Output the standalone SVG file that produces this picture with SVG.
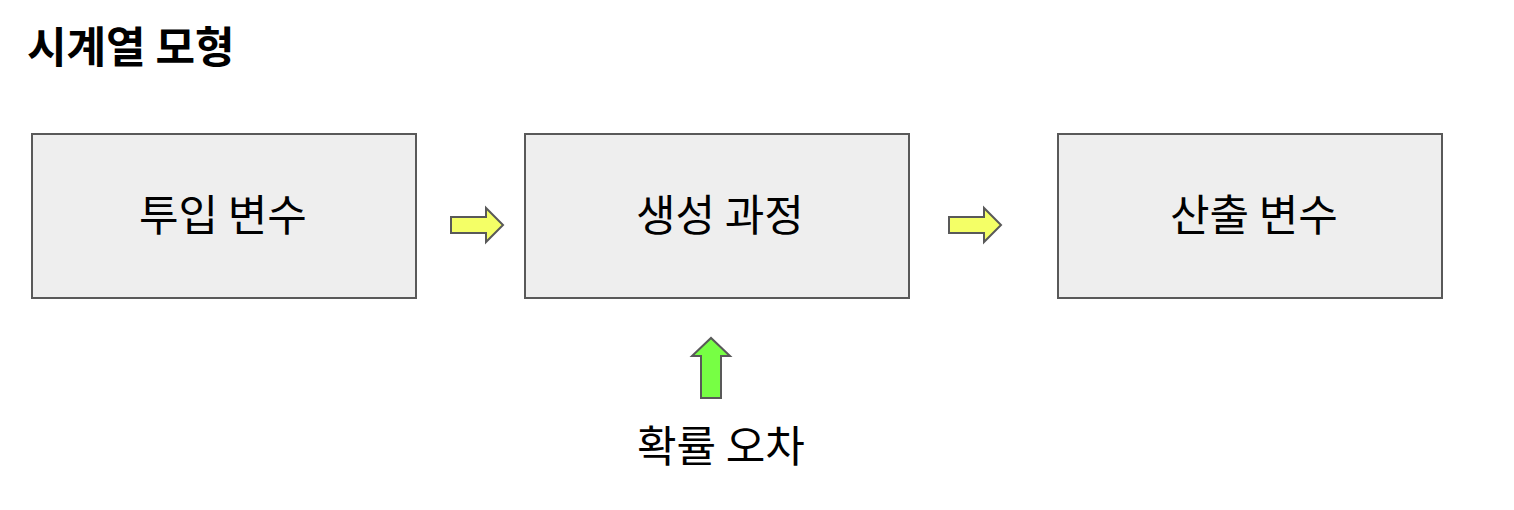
<svg xmlns="http://www.w3.org/2000/svg" width="1514" height="510" viewBox="0 0 1514 510">
<style>
.box{fill:#eeeeee;stroke:#595959;stroke-width:2}
.lbl{font-family:"Noto Sans CJK KR","Liberation Sans",sans-serif;font-size:43px;fill:#000;text-anchor:middle}
.title{font-family:"Noto Sans CJK KR","Liberation Sans",sans-serif;font-size:43px;font-weight:bold;fill:#000}
.ya{fill:#f4ff66;stroke:#595959;stroke-width:2;stroke-linejoin:miter}
.ga{fill:#77ff44;stroke:#595959;stroke-width:2}
</style>
<rect width="1514" height="510" fill="#ffffff"/>
<text class="title" x="27" y="63">시계열 모형</text>
<g id="input"><rect class="box" x="32" y="134" width="384" height="164"/><text class="lbl" x="223" y="231">투입 변수</text></g>
<g id="process"><rect class="box" x="525" y="134" width="384" height="164"/><text class="lbl" x="720" y="231">생성 과정</text></g>
<g id="output"><rect class="box" x="1058" y="134" width="384" height="164"/><text class="lbl" x="1254" y="231">산출 변수</text></g>
<g id="error"><text class="lbl" x="721" y="462">확률 오차</text></g>
<g id="connectors">
<path class="ya" d="M451,217 H486 V208 L503,225 L486,242 V233 H451 Z"/>
<path class="ya" d="M949,217 H984 V208 L1001,225 L984,242 V233 H949 Z"/>
<path class="ga" d="M701,398 V356 H692 L711,338 L730,356 H721 V398 Z"/>
</g>
</svg>
